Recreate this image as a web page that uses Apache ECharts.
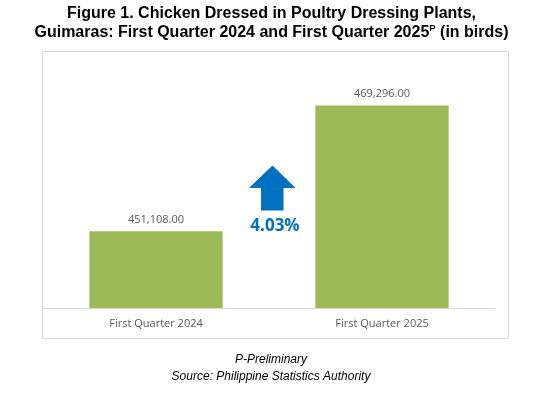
<!DOCTYPE html>
<html><head><meta charset="utf-8">
<script src="https://cdn.jsdelivr.net/npm/echarts@6/dist/echarts.min.js"></script>
<style>html,body{margin:0;padding:0;background:#fff;}#c{width:543px;height:397px;}</style>
</head><body><div id="c"></div>
<script>
const categories = ['First Quarter 2024', 'First Quarter 2025'];
const values = [451108, 469296];
const changeText = '4.03%';

const chart = echarts.init(document.getElementById('c'));
chart.setOption({
  animation: false,
  backgroundColor: '#fff',
  title: {
    left: 'center', top: -1,
    text: '{a|Figure 1. Chicken Dressed in Poultry Dressing Plants,}\n{a|Guimaras: First Quarter 2024 and First Quarter 2025}{sup|P}{a| (in birds)}',
    textStyle: {
      rich: {
        a: { fontFamily: 'Liberation Sans', fontWeight: 'bold', fontSize: 16, color: '#000', lineHeight: 19 },
        sup: { fontFamily: 'Liberation Sans', fontWeight: 'bold', fontSize: 9.5, color: '#000', verticalAlign: 'top', lineHeight: 19, padding: [0,0,6,0] }
      }
    }
  },
  grid: { left: 43, right: 48, top: 66, bottom: 89 },
  xAxis: {
    type: 'category', data: categories,
    axisLine: { lineStyle: { color: '#d9d9d9', width: 1 } },
    axisTick: { show: false },
    axisLabel: { color: '#595959', fontSize: 11, fontFamily: 'Open Sans', margin: 10 }
  },
  yAxis: { type: 'value', min: 440000, max: 475000, interval: 5000, show: false, splitLine: { show: false } },
  series: [{
    type: 'bar', data: values, barWidth: '59%',
    itemStyle: { color: '#9BBB59' },
    label: {
      show: true, position: 'top', distance: 6, color: '#595959', fontSize: 11, fontFamily: 'Open Sans',
      formatter: p => p.value.toLocaleString('en-US', { minimumFractionDigits: 2, maximumFractionDigits: 2 })
    }
  }],
  graphic: [
    { type: 'rect', shape: { x: 42.5, y: 51.5, width: 466, height: 287 }, style: { fill: 'none', stroke: '#d9d9d9', lineWidth: 1 }, z: -1 },
    { type: 'polygon', shape: { points: [[272.5,165.5],[295.5,188],[283.5,188],[283.5,210.5],[261,210.5],[261,188],[249,188]] }, style: { fill: '#0070C0' } },
    { type: 'text', style: { text: changeText, x: 275, y: 226, align: 'center', verticalAlign: 'middle', fill: '#0070C0', font: 'bold 17px "Open Sans"' } },
    { type: 'text', style: { text: 'P-Preliminary\nSource: Philippine Statistics Authority', x: 271, y: 368, align: 'center', verticalAlign: 'middle', fill: '#000', font: 'italic 12px "Liberation Sans"', lineHeight: 17 } }
  ]
});
</script></body></html>
